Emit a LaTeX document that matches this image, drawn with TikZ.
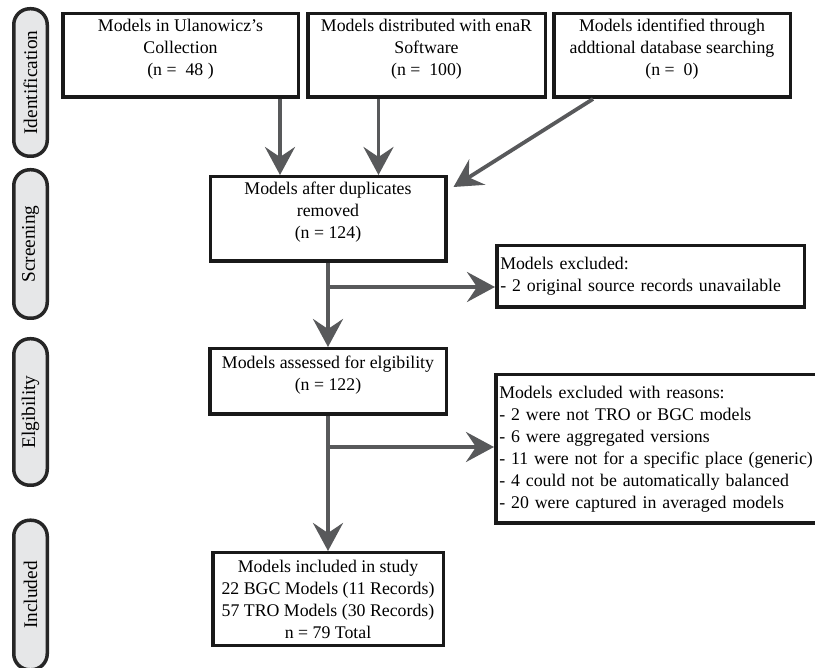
\documentclass[tikz,border=0pt]{standalone}
\usepackage{fontspec}
\setmainfont{Liberation Serif}
\usetikzlibrary{arrows.meta}
\definecolor{tabgray}{HTML}{E6E7E8}
\definecolor{arrowgray}{HTML}{58595B}
\tikzset{
    flow-box/.style = {draw=black!90, fill=white, line width=3.5pt, rectangle, align=center, inner sep=3.5pt, font=\fontsize{17.8}{22}\selectfont},
    note-box/.style = {flow-box, align=left},
    side-tab/.style = {draw=black!85, fill=tabgray, line width=3.5pt, rectangle, rounded corners=16pt, rotate=90, minimum height=33.5pt, font=\fontsize{19.3}{22}\selectfont},
    flow-arrow/.style = {draw=arrowgray, line width=3.8pt, -{Stealth[length=28pt, width=30pt, inset=10pt]}},
}

\begin{document}
\begin{tikzpicture}[x=1pt, y=-1pt]
\useasboundingbox (0,0) rectangle (815,668);

% stage tabs
\node[side-tab, minimum width=147.5pt] (tab-ident) at (30.5,82.5) {Identification};
\node[side-tab, minimum width=148.5pt] (tab-screen) at (30.5,244) {Screening};
\node[side-tab, minimum width=146.5pt] (tab-elig) at (30.5,412) {Elgibility};
\node[side-tab, minimum width=149.5pt] (tab-incl) at (30.5,595) {Included};

% sources
\node[flow-box, minimum width=235.5pt, minimum height=83.5pt] (ulan) at (180.5,55.5) {Models in Ulanowicz's\\Collection\\(n = \ 48 )\\[-5pt]};
\node[flow-box, minimum width=237.5pt, minimum height=83.5pt] (enar) at (426.5,55.5) {Models distributed with enaR\\Software\\(n = \ 100)\\[-5pt]};
\node[flow-box, minimum width=236.5pt, minimum height=83.5pt] (addl) at (672,55.5) {Models identified through\\addtional database searching\\(n = \ 0)\\[-5pt]};

% screening and eligibility
\node[flow-box, minimum width=235.5pt, minimum height=84.5pt] (dup) at (328,219) {Models after duplicates\\removed\\(n = 124)\\[-5pt]};
\node[note-box, text width=300.5pt, minimum height=61.5pt] (excl) at (650.5,276.5) {Models excluded:\\- 2 original source records unavailable\\[-5pt]};
\node[flow-box, minimum width=236.5pt, minimum height=65.5pt] (assess) at (328,381.5) {Models assessed for elgibility\\(n = 122)\\[-5pt]};
\node[note-box, text width=330.5pt, minimum height=148.5pt] (reasons) at (664.5,449) {Models excluded with reasons:\\- 2 were not TRO or BGC models\\- 6 were aggregated versions\\- 11 were not for a specific place (generic)\\- 4 could not be automatically balanced\\- 20 were captured in averaged models};
\node[flow-box, minimum width=230.5pt, minimum height=92.5pt] (incl) at (328,599) {Models included in study\\22 BGC Models (11 Records)\\57 TRO Models (30 Records)\\n = 79 Total};

% connectors
\draw[flow-arrow] ([xshift=-20pt]ulan.south east) -- ([xshift=-20pt]ulan.south east |- dup.north);
\draw[flow-arrow] ([xshift=-48pt]enar.south) -- ([xshift=-48pt]enar.south |- dup.north);
\draw[flow-arrow] ([xshift=-79pt]addl.south) -- ([xshift=6pt, yshift=32pt]dup.east);
\coordinate (split-a) at (328,287);
\coordinate (split-b) at (328,447);
\draw[flow-arrow] (dup.south) -- (assess.north);
\draw[flow-arrow] (split-a) -- (split-a -| excl.west);
\draw[flow-arrow] (assess.south) -- (incl.north);
\draw[flow-arrow] (split-b) -- (split-b -| reasons.west);
\end{tikzpicture}
\end{document}
